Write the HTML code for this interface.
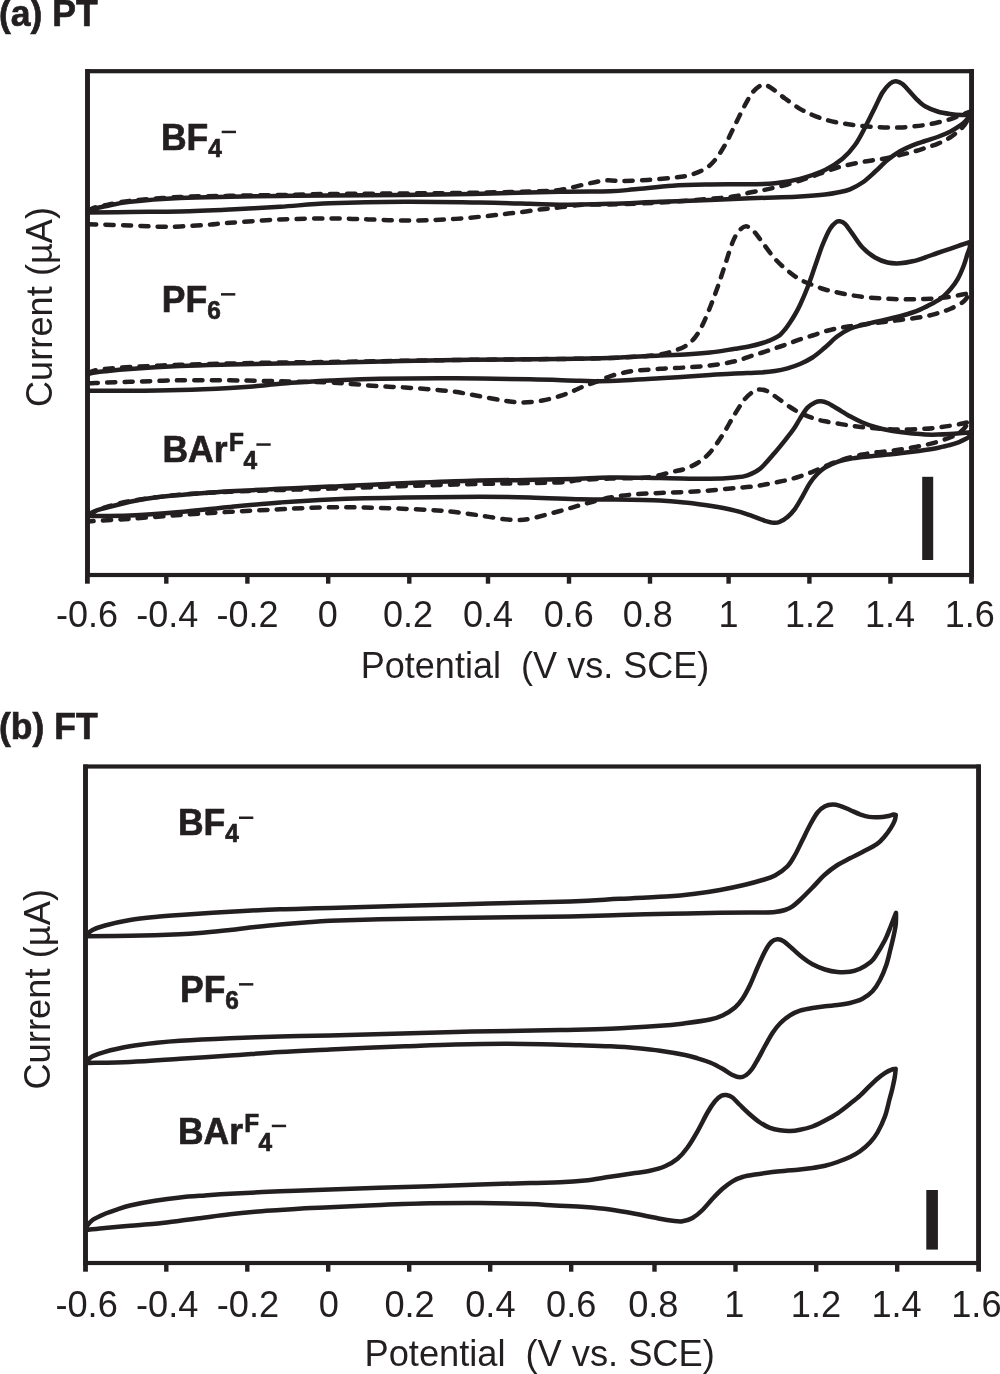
<!DOCTYPE html>
<html><head><meta charset="utf-8"><title>CV</title>
<style>html,body{margin:0;padding:0;background:#fff;}svg{display:block;will-change:transform;}</style>
</head><body>
<svg width="1000" height="1374" viewBox="0 0 1000 1374" font-family="'Liberation Sans', sans-serif" fill="#231f20">
<!-- panel a -->
<text transform="translate(-1 26.2) scale(0.955 1)" font-size="37.2" font-weight="bold" stroke="#231f20" stroke-width="0.7">(a) PT</text>
<rect x="87.5" y="71.2" width="884.1" height="503.8" fill="none" stroke="#231f20" stroke-width="4.2"/>
<path d="M87.5,69.10000000000001V577.1M971.6,69.10000000000001V577.1" stroke="#231f20" stroke-width="4.8" fill="none"/>
<line x1="87.40" y1="575" x2="87.40" y2="583.7" stroke="#231f20" stroke-width="4.8"/>
<text x="87.05" y="627" font-size="36" text-anchor="middle">-0.6</text>
<line x1="166.30" y1="575" x2="166.30" y2="583.7" stroke="#231f20" stroke-width="4.4"/>
<text x="167.20" y="627" font-size="36" text-anchor="middle">-0.4</text>
<line x1="247.40" y1="575" x2="247.40" y2="583.7" stroke="#231f20" stroke-width="4.4"/>
<text x="247.60" y="627" font-size="36" text-anchor="middle">-0.2</text>
<line x1="328.20" y1="575" x2="328.20" y2="583.7" stroke="#231f20" stroke-width="4.4"/>
<text x="327.70" y="627" font-size="36" text-anchor="middle">0</text>
<line x1="409.30" y1="575" x2="409.30" y2="583.7" stroke="#231f20" stroke-width="4.4"/>
<text x="408.00" y="627" font-size="36" text-anchor="middle">0.2</text>
<line x1="488.00" y1="575" x2="488.00" y2="583.7" stroke="#231f20" stroke-width="4.4"/>
<text x="488.00" y="627" font-size="36" text-anchor="middle">0.4</text>
<line x1="569.00" y1="575" x2="569.00" y2="583.7" stroke="#231f20" stroke-width="4.4"/>
<text x="568.80" y="627" font-size="36" text-anchor="middle">0.6</text>
<line x1="650.00" y1="575" x2="650.00" y2="583.7" stroke="#231f20" stroke-width="4.4"/>
<text x="647.70" y="627" font-size="36" text-anchor="middle">0.8</text>
<line x1="728.60" y1="575" x2="728.60" y2="583.7" stroke="#231f20" stroke-width="4.4"/>
<text x="728.60" y="627" font-size="36" text-anchor="middle">1</text>
<line x1="809.40" y1="575" x2="809.40" y2="583.7" stroke="#231f20" stroke-width="4.4"/>
<text x="810.00" y="627" font-size="36" text-anchor="middle">1.2</text>
<line x1="890.40" y1="575" x2="890.40" y2="583.7" stroke="#231f20" stroke-width="4.4"/>
<text x="889.90" y="627" font-size="36" text-anchor="middle">1.4</text>
<line x1="971.50" y1="575" x2="971.50" y2="583.7" stroke="#231f20" stroke-width="4.8"/>
<text x="969.80" y="627" font-size="36" text-anchor="middle">1.6</text>
<text x="360.7" y="677.8" font-size="36" textLength="348.6" lengthAdjust="spacing" style="white-space:pre">Potential  (V vs. SCE)</text>
<text transform="translate(52.4 407) rotate(-90)" font-size="36" textLength="200" lengthAdjust="spacing">Current (µA)</text>
<rect x="922.2" y="476.8" width="11" height="83.2" fill="#231f20"/>
<!-- panel b -->
<text transform="translate(-1 739.2) scale(0.955 1)" font-size="37.2" font-weight="bold" stroke="#231f20" stroke-width="0.7">(b) FT</text>
<rect x="85.5" y="766.5" width="893.1" height="496.5" fill="none" stroke="#231f20" stroke-width="4.2"/>
<path d="M85.5,764.4V1265.1M978.6,764.4V1265.1" stroke="#231f20" stroke-width="4.8" fill="none"/>
<line x1="85.50" y1="1263" x2="85.50" y2="1271.7" stroke="#231f20" stroke-width="4.8"/>
<text x="86.60" y="1316.6" font-size="36.2" text-anchor="middle">-0.6</text>
<line x1="166.30" y1="1263" x2="166.30" y2="1271.7" stroke="#231f20" stroke-width="4.4"/>
<text x="167.20" y="1316.6" font-size="36.2" text-anchor="middle">-0.4</text>
<line x1="247.30" y1="1263" x2="247.30" y2="1271.7" stroke="#231f20" stroke-width="4.4"/>
<text x="248.00" y="1316.6" font-size="36.2" text-anchor="middle">-0.2</text>
<line x1="328.20" y1="1263" x2="328.20" y2="1271.7" stroke="#231f20" stroke-width="4.4"/>
<text x="328.80" y="1316.6" font-size="36.2" text-anchor="middle">0</text>
<line x1="409.20" y1="1263" x2="409.20" y2="1271.7" stroke="#231f20" stroke-width="4.4"/>
<text x="409.60" y="1316.6" font-size="36.2" text-anchor="middle">0.2</text>
<line x1="490.20" y1="1263" x2="490.20" y2="1271.7" stroke="#231f20" stroke-width="4.4"/>
<text x="490.40" y="1316.6" font-size="36.2" text-anchor="middle">0.4</text>
<line x1="571.20" y1="1263" x2="571.20" y2="1271.7" stroke="#231f20" stroke-width="4.4"/>
<text x="571.20" y="1316.6" font-size="36.2" text-anchor="middle">0.6</text>
<line x1="654.50" y1="1263" x2="654.50" y2="1271.7" stroke="#231f20" stroke-width="4.4"/>
<text x="653.30" y="1316.6" font-size="36.2" text-anchor="middle">0.8</text>
<line x1="735.50" y1="1263" x2="735.50" y2="1271.7" stroke="#231f20" stroke-width="4.4"/>
<text x="734.40" y="1316.6" font-size="36.2" text-anchor="middle">1</text>
<line x1="816.20" y1="1263" x2="816.20" y2="1271.7" stroke="#231f20" stroke-width="4.4"/>
<text x="816.00" y="1316.6" font-size="36.2" text-anchor="middle">1.2</text>
<line x1="897.20" y1="1263" x2="897.20" y2="1271.7" stroke="#231f20" stroke-width="4.4"/>
<text x="896.60" y="1316.6" font-size="36.2" text-anchor="middle">1.4</text>
<line x1="978.60" y1="1263" x2="978.60" y2="1271.7" stroke="#231f20" stroke-width="4.8"/>
<text x="976.40" y="1316.6" font-size="36.2" text-anchor="middle">1.6</text>
<text x="364.5" y="1366" font-size="36.3" textLength="350.3" lengthAdjust="spacing" style="white-space:pre">Potential  (V vs. SCE)</text>
<text transform="translate(50 1089.6) rotate(-90)" font-size="36.3" textLength="200.6" lengthAdjust="spacing">Current (µA)</text>
<rect x="926.3" y="1190" width="11.6" height="59.6" fill="#231f20"/>
<!-- labels -->
<text transform="translate(161 149.6) scale(0.954 1)" font-size="37.2" font-weight="bold" stroke="#231f20" stroke-width="0.7">BF</text>
<text transform="translate(208.2 156.6) scale(0.97 1)" font-size="25.2" font-weight="bold" stroke="#231f20" stroke-width="0.7">4</text>
<rect x="221.7" y="130.7" width="14.3" height="2.5"/>
<text transform="translate(161.8 312) scale(0.954 1)" font-size="37.2" font-weight="bold" stroke="#231f20" stroke-width="0.7">PF</text>
<text transform="translate(207.2 319.0) scale(0.97 1)" font-size="25.2" font-weight="bold" stroke="#231f20" stroke-width="0.7">6</text>
<rect x="221" y="293.1" width="14.3" height="2.5"/>
<text transform="translate(162.4 462.2) scale(0.954 1)" font-size="37.2" font-weight="bold" stroke="#231f20" stroke-width="0.7">BAr</text>
<text transform="translate(229 450.59999999999997) scale(0.97 1)" font-size="25.2" font-weight="bold" stroke="#231f20" stroke-width="0.7">F</text>
<text transform="translate(243.4 469.2) scale(0.97 1)" font-size="25.2" font-weight="bold" stroke="#231f20" stroke-width="0.7">4</text>
<rect x="256.4" y="443.3" width="14.3" height="2.5"/>
<text transform="translate(178 835.4) scale(0.954 1)" font-size="37.2" font-weight="bold" stroke="#231f20" stroke-width="0.7">BF</text>
<text transform="translate(225.2 842.4) scale(0.97 1)" font-size="25.2" font-weight="bold" stroke="#231f20" stroke-width="0.7">4</text>
<rect x="239" y="816.5" width="14.3" height="2.5"/>
<text transform="translate(180 1002) scale(0.954 1)" font-size="37.2" font-weight="bold" stroke="#231f20" stroke-width="0.7">PF</text>
<text transform="translate(225.2 1009.0) scale(0.97 1)" font-size="25.2" font-weight="bold" stroke="#231f20" stroke-width="0.7">6</text>
<rect x="239" y="983.1" width="14.3" height="2.5"/>
<text transform="translate(178 1143.6) scale(0.954 1)" font-size="37.2" font-weight="bold" stroke="#231f20" stroke-width="0.7">BAr</text>
<text transform="translate(244.2 1132.0) scale(0.97 1)" font-size="25.2" font-weight="bold" stroke="#231f20" stroke-width="0.7">F</text>
<text transform="translate(258.6 1150.6) scale(0.97 1)" font-size="25.2" font-weight="bold" stroke="#231f20" stroke-width="0.7">4</text>
<rect x="271.8" y="1124.6999999999998" width="14.3" height="2.5"/>
<!-- curves -->
<path d="M88.0,212.0C89.2,211.4 92.2,209.4 95.0,208.5C97.8,207.6 99.2,207.4 105.0,206.3C110.8,205.2 117.5,203.2 130.0,201.8C142.5,200.4 163.3,198.8 180.0,198.0C196.7,197.2 213.3,197.1 230.0,196.8C246.7,196.5 263.3,196.2 280.0,196.0C296.7,195.8 300.8,195.8 330.0,195.5C359.2,195.2 416.7,194.9 455.0,194.3C493.3,193.7 534.2,192.3 560.0,191.8C585.8,191.3 597.5,191.7 610.0,191.3C622.5,190.9 624.6,190.2 635.0,189.3C645.4,188.4 660.0,186.6 672.5,185.8C685.0,185.0 697.1,184.8 710.0,184.5C722.9,184.2 739.2,184.5 750.0,184.3C760.8,184.1 766.7,184.2 775.0,183.3C783.3,182.4 791.7,181.0 800.0,178.8C808.3,176.6 817.9,173.3 825.0,170.0C832.1,166.7 837.5,163.0 842.5,158.8C847.5,154.6 851.2,150.2 855.0,145.0C858.8,139.8 861.7,133.8 865.0,127.5C868.3,121.2 872.1,113.3 875.0,107.5C877.9,101.7 880.0,96.5 882.5,92.5C885.0,88.5 887.8,85.5 890.0,83.6C892.2,81.7 893.9,81.1 896.0,81.2C898.1,81.3 899.8,81.8 902.5,84.0C905.2,86.2 909.9,92.0 912.5,94.7C915.1,97.5 915.9,98.6 918.0,100.5C920.1,102.4 921.8,104.4 925.0,106.2C928.2,108.0 933.3,110.2 937.5,111.5C941.7,112.8 945.8,113.4 950.0,114.0C954.2,114.6 959.0,114.9 962.5,115.0C966.0,115.1 969.6,114.6 971.0,114.5C970.0,115.7 966.8,119.6 965.0,121.5C963.2,123.4 962.5,124.0 960.0,125.7C957.5,127.4 953.8,129.9 950.0,131.8C946.2,133.7 941.7,135.5 937.5,137.0C933.3,138.5 929.2,139.6 925.0,141.0C920.8,142.4 916.7,143.6 912.5,145.3C908.3,147.0 904.2,148.9 900.0,151.3C895.8,153.8 891.7,156.6 887.5,160.0C883.3,163.4 879.2,168.1 875.0,171.8C870.8,175.6 866.7,179.6 862.5,182.5C858.3,185.4 854.2,187.6 850.0,189.3C845.8,191.0 841.7,191.6 837.5,192.5C833.3,193.4 831.2,193.8 825.0,194.5C818.8,195.2 808.3,196.0 800.0,196.5C791.7,197.0 783.3,197.2 775.0,197.5C766.7,197.8 760.8,197.9 750.0,198.3C739.2,198.7 725.0,199.4 710.0,200.0C695.0,200.6 676.7,201.2 660.0,201.8C643.3,202.4 626.7,203.3 610.0,203.8C593.3,204.3 573.3,204.8 560.0,204.8C546.7,204.8 543.3,204.2 530.0,203.8C516.7,203.4 500.8,202.8 480.0,202.5C459.2,202.2 430.0,201.7 405.0,201.8C380.0,201.9 350.8,202.5 330.0,203.3C309.2,204.1 296.7,205.8 280.0,206.8C263.3,207.8 246.7,208.7 230.0,209.5C213.3,210.3 196.7,211.1 180.0,211.5C163.3,211.9 145.3,211.8 130.0,212.0C114.7,212.2 95.0,212.4 88.0,212.5" fill="none" stroke="#231f20" stroke-width="4.5" stroke-linejoin="round"/>
<path d="M88.0,211.0C89.2,210.4 92.2,208.4 95.0,207.5C97.8,206.6 99.2,206.4 105.0,205.3C110.8,204.2 117.5,202.2 130.0,200.8C142.5,199.4 163.3,197.8 180.0,197.0C196.7,196.2 213.3,196.1 230.0,195.8C246.7,195.5 263.3,195.3 280.0,195.0C296.7,194.7 300.8,194.3 330.0,194.0C359.2,193.7 421.7,193.4 455.0,193.0C488.3,192.6 512.5,192.0 530.0,191.5C547.5,191.0 550.8,191.2 560.0,190.0C569.2,188.8 577.5,185.9 585.0,184.3C592.5,182.7 598.8,181.1 605.0,180.5C611.2,179.9 615.4,181.1 622.5,181.0C629.6,180.9 639.2,180.5 647.5,180.0C655.8,179.5 665.4,178.6 672.5,177.8C679.6,177.0 684.6,176.5 690.0,175.0C695.4,173.5 700.8,171.3 705.0,168.8C709.2,166.3 711.7,164.0 715.0,160.0C718.3,156.0 721.7,150.8 725.0,145.0C728.3,139.2 731.7,131.7 735.0,125.0C738.3,118.3 742.1,110.4 745.0,105.0C747.9,99.6 750.0,95.7 752.5,92.5C755.0,89.3 757.9,87.0 760.0,85.8C762.1,84.5 762.9,84.5 765.0,85.0C767.1,85.5 769.2,86.5 772.5,88.8C775.8,91.0 780.4,95.2 785.0,98.5C789.6,101.8 795.4,106.0 800.0,108.8C804.6,111.5 808.3,113.2 812.5,115.0C816.7,116.8 820.8,118.2 825.0,119.5C829.2,120.8 833.3,121.7 837.5,122.5C841.7,123.3 845.8,123.9 850.0,124.5C854.2,125.1 858.3,125.6 862.5,126.0C866.7,126.4 870.8,126.8 875.0,127.0C879.2,127.2 883.3,127.4 887.5,127.5C891.7,127.6 895.8,127.7 900.0,127.5C904.2,127.3 908.3,126.9 912.5,126.5C916.7,126.1 920.8,125.7 925.0,125.0C929.2,124.3 933.3,123.5 937.5,122.5C941.7,121.5 945.8,120.6 950.0,119.3C954.2,118.0 959.0,115.8 962.5,114.5C966.0,113.2 969.6,111.8 971.0,111.3C970.3,112.9 968.4,118.3 967.0,121.0C965.6,123.7 965.3,124.8 962.5,127.5C959.7,130.2 954.2,134.8 950.0,137.5C945.8,140.2 941.7,142.1 937.5,143.8C933.3,145.6 929.2,146.6 925.0,148.0C920.8,149.4 916.7,150.8 912.5,152.0C908.3,153.2 904.2,154.0 900.0,155.0C895.8,156.0 891.7,157.2 887.5,158.0C883.3,158.8 879.2,159.3 875.0,160.0C870.8,160.7 866.7,161.2 862.5,162.0C858.3,162.8 854.2,163.6 850.0,164.5C845.8,165.4 841.7,166.3 837.5,167.5C833.3,168.7 829.2,170.3 825.0,171.8C820.8,173.3 816.7,174.9 812.5,176.3C808.3,177.8 804.2,179.1 800.0,180.5C795.8,181.9 791.7,183.3 787.5,184.5C783.3,185.7 779.2,186.5 775.0,187.5C770.8,188.5 766.7,189.5 762.5,190.3C758.3,191.1 754.6,191.5 750.0,192.5C745.4,193.5 741.7,195.2 735.0,196.3C728.3,197.4 722.5,197.8 710.0,198.8C697.5,199.8 676.7,201.6 660.0,202.5C643.3,203.4 622.5,204.2 610.0,204.5C597.5,204.8 591.2,204.4 585.0,204.6C578.8,204.8 577.7,205.2 572.5,205.8C567.3,206.4 559.8,207.3 553.8,208.0C547.8,208.7 542.3,209.2 536.3,210.0C530.2,210.8 523.5,211.8 517.5,212.5C511.4,213.2 505.8,213.8 500.0,214.5C494.2,215.2 488.5,215.9 482.5,216.5C476.5,217.1 470.1,217.8 463.8,218.3C457.6,218.8 451.1,219.2 445.0,219.5C438.9,219.8 433.3,220.1 427.5,220.3C421.7,220.5 415.8,220.5 410.0,220.5C404.2,220.5 398.5,220.5 392.5,220.3C386.5,220.2 380.1,219.8 373.8,219.6C367.6,219.4 362.3,219.2 355.0,219.0C347.7,218.8 342.5,218.3 330.0,218.4C317.5,218.5 296.7,218.8 280.0,219.5C263.3,220.2 242.5,221.9 230.0,222.8C217.5,223.7 215.4,224.3 205.0,225.0C194.6,225.7 180.0,226.7 167.5,226.8C155.0,226.9 143.2,225.9 130.0,225.5C116.8,225.1 95.0,224.5 88.0,224.3" fill="none" stroke="#231f20" stroke-width="4.5" stroke-linejoin="round" stroke-dasharray="8.2 9.2" stroke-linecap="round"/>
<path d="M88.0,374.0C89.2,373.8 92.2,372.9 95.0,372.5C97.8,372.1 99.2,371.9 105.0,371.3C110.8,370.7 117.5,369.9 130.0,369.0C142.5,368.1 163.3,366.8 180.0,366.0C196.7,365.2 213.3,364.9 230.0,364.5C246.7,364.1 263.3,363.8 280.0,363.5C296.7,363.2 300.8,363.4 330.0,362.8C359.2,362.2 416.7,360.6 455.0,360.0C493.3,359.4 534.2,359.3 560.0,359.0C585.8,358.7 593.3,358.6 610.0,358.0C626.7,357.4 647.5,356.1 660.0,355.5C672.5,354.9 676.7,355.0 685.0,354.5C693.3,354.0 701.7,353.4 710.0,352.5C718.3,351.6 728.3,349.8 735.0,348.8C741.7,347.8 745.4,347.3 750.0,346.3C754.6,345.3 759.2,344.0 762.5,343.0C765.8,342.0 767.9,341.1 770.0,340.3C772.1,339.5 773.3,338.9 775.0,338.0C776.7,337.1 778.3,336.4 780.0,335.0C781.7,333.6 783.3,331.6 785.0,329.5C786.7,327.4 788.3,325.0 790.0,322.5C791.7,320.0 793.3,317.4 795.0,314.5C796.7,311.6 797.9,309.5 800.0,305.0C802.1,300.5 805.0,293.9 807.5,287.5C810.0,281.1 812.5,273.4 815.0,266.3C817.5,259.2 820.0,251.2 822.5,245.0C825.0,238.8 827.7,232.6 830.0,228.8C832.3,225.0 834.6,223.2 836.3,222.0C838.0,220.8 838.5,221.0 840.0,221.3C841.5,221.6 842.9,221.7 845.0,223.8C847.1,225.9 849.6,229.9 852.5,233.8C855.4,237.8 858.8,243.6 862.5,247.5C866.2,251.4 870.8,255.0 875.0,257.5C879.2,260.0 883.3,261.5 887.5,262.5C891.7,263.5 895.8,263.5 900.0,263.3C904.2,263.1 908.3,262.3 912.5,261.3C916.7,260.3 920.8,258.9 925.0,257.5C929.2,256.1 933.3,254.4 937.5,253.0C941.7,251.6 945.8,250.2 950.0,248.8C954.2,247.4 959.0,245.7 962.5,244.5C966.0,243.3 969.6,242.1 971.0,241.6C970.8,242.7 970.2,245.8 969.6,248.0C969.0,250.2 968.3,251.5 967.3,254.5C966.3,257.5 965.3,261.7 963.7,265.8C962.1,269.9 960.0,275.0 957.8,278.9C955.6,282.8 953.3,285.9 950.6,289.0C947.9,292.1 945.1,295.2 941.8,297.8C938.5,300.4 934.5,302.3 930.9,304.3C927.3,306.3 923.1,308.2 920.0,309.6C916.9,311.0 915.8,311.4 912.5,312.5C909.2,313.6 904.2,315.2 900.0,316.3C895.8,317.4 891.7,318.4 887.5,319.3C883.3,320.2 879.2,321.1 875.0,322.0C870.8,322.9 866.7,323.9 862.5,325.0C858.3,326.1 854.2,326.9 850.0,328.8C845.8,330.7 841.7,333.2 837.5,336.3C833.3,339.4 829.2,344.0 825.0,347.5C820.8,351.0 816.7,354.8 812.5,357.5C808.3,360.2 804.2,362.2 800.0,364.0C795.8,365.8 791.7,367.1 787.5,368.3C783.3,369.5 779.6,370.3 775.0,371.0C770.4,371.7 766.7,372.1 760.0,372.5C753.3,372.9 743.3,373.1 735.0,373.5C726.7,373.9 722.5,374.2 710.0,375.0C697.5,375.8 676.7,377.3 660.0,378.3C643.3,379.3 623.3,380.6 610.0,381.0C596.7,381.4 593.3,381.1 580.0,380.8C566.7,380.5 550.8,379.7 530.0,379.3C509.2,378.9 480.0,378.4 455.0,378.3C430.0,378.2 400.8,378.4 380.0,378.8C359.2,379.2 342.5,380.0 330.0,380.5C317.5,381.0 313.3,381.4 305.0,382.0C296.7,382.6 288.3,383.1 280.0,383.8C271.7,384.5 263.3,385.6 255.0,386.3C246.7,387.0 242.5,387.4 230.0,388.0C217.5,388.6 196.7,389.5 180.0,390.0C163.3,390.5 145.3,390.7 130.0,390.8C114.7,390.9 95.0,390.8 88.0,390.8" fill="none" stroke="#231f20" stroke-width="4.5" stroke-linejoin="round"/>
<path d="M88.0,373.0C89.2,372.6 92.2,371.2 95.0,370.5C97.8,369.8 99.2,369.6 105.0,369.0C110.8,368.4 117.5,367.7 130.0,367.0C142.5,366.3 163.3,365.4 180.0,364.8C196.7,364.2 213.3,363.9 230.0,363.5C246.7,363.1 263.3,362.8 280.0,362.5C296.7,362.2 300.8,362.4 330.0,362.0C359.2,361.6 416.7,360.5 455.0,360.0C493.3,359.5 534.2,359.3 560.0,359.0C585.8,358.7 595.5,358.5 610.0,358.0C624.5,357.5 638.7,356.6 647.0,356.0C655.3,355.4 655.8,355.3 660.0,354.5C664.2,353.7 668.3,352.7 672.5,351.3C676.7,349.9 681.2,348.6 685.0,346.3C688.8,344.0 692.1,341.1 695.0,337.5C697.9,333.9 700.0,330.0 702.5,325.0C705.0,320.0 707.5,313.8 710.0,307.5C712.5,301.2 715.0,294.6 717.5,287.5C720.0,280.4 722.5,272.5 725.0,265.0C727.5,257.5 730.2,248.1 732.5,242.5C734.8,236.9 736.5,234.0 738.8,231.3C741.0,228.6 743.5,226.3 746.0,226.3C748.5,226.3 751.0,228.6 753.8,231.3C756.5,234.0 759.0,237.9 762.5,242.5C766.0,247.1 770.8,254.1 775.0,258.8C779.2,263.5 783.3,267.1 787.5,270.5C791.7,273.9 795.8,277.1 800.0,279.5C804.2,281.9 808.3,283.3 812.5,285.0C816.7,286.7 820.8,288.2 825.0,289.5C829.2,290.8 833.3,291.6 837.5,292.5C841.7,293.4 845.8,294.3 850.0,295.0C854.2,295.7 858.3,296.3 862.5,296.8C866.7,297.3 870.8,297.7 875.0,298.0C879.2,298.3 883.3,298.6 887.5,298.8C891.7,299.0 895.8,299.2 900.0,299.3C904.2,299.4 908.3,299.4 912.5,299.3C916.7,299.2 920.8,299.2 925.0,299.0C929.2,298.8 933.3,298.6 937.5,298.2C941.7,297.8 945.8,297.4 950.0,296.8C954.2,296.2 959.2,295.1 962.5,294.5C965.8,293.9 968.8,293.2 970.0,293.0C969.2,294.1 967.0,297.7 965.5,299.5C964.0,301.3 963.3,302.1 960.8,303.6C958.3,305.1 954.1,307.2 950.6,308.7C947.1,310.2 944.3,311.2 940.0,312.5C935.7,313.8 931.7,315.2 925.0,316.5C918.3,317.8 908.3,318.9 900.0,320.0C891.7,321.1 883.3,321.9 875.0,323.0C866.7,324.1 856.2,325.4 850.0,326.3C843.8,327.2 841.7,327.5 837.5,328.3C833.3,329.1 829.2,330.1 825.0,331.3C820.8,332.5 816.7,334.2 812.5,335.5C808.3,336.8 804.2,337.9 800.0,339.3C795.8,340.7 791.7,342.5 787.5,344.0C783.3,345.5 779.2,346.9 775.0,348.3C770.8,349.7 766.7,351.2 762.5,352.5C758.3,353.8 754.6,354.8 750.0,356.3C745.4,357.8 741.7,359.8 735.0,361.3C728.3,362.8 718.3,364.5 710.0,365.5C701.7,366.5 693.3,366.9 685.0,367.5C676.7,368.1 668.3,368.2 660.0,368.8C651.7,369.4 641.2,370.1 635.0,370.8C628.8,371.5 626.7,372.1 622.5,373.0C618.3,373.9 614.2,374.9 610.0,376.3C605.8,377.7 601.7,379.7 597.5,381.3C593.3,382.9 589.2,384.1 585.0,385.8C580.8,387.5 576.7,389.6 572.5,391.3C568.3,393.0 565.0,394.5 560.0,396.0C555.0,397.5 548.8,399.4 542.5,400.5C536.2,401.6 528.8,402.4 522.5,402.5C516.2,402.6 512.1,401.8 505.0,400.8C497.9,399.8 488.3,397.8 480.0,396.3C471.7,394.8 463.3,393.0 455.0,391.8C446.7,390.6 438.3,390.0 430.0,389.3C421.7,388.6 413.3,388.0 405.0,387.5C396.7,387.0 388.3,386.8 380.0,386.3C371.7,385.8 363.3,384.9 355.0,384.3C346.7,383.7 342.5,383.0 330.0,382.5C317.5,382.0 292.5,381.6 280.0,381.3C267.5,381.0 263.3,381.0 255.0,380.8C246.7,380.6 242.5,380.4 230.0,380.3C217.5,380.2 196.7,380.1 180.0,380.3C163.3,380.6 144.2,381.4 130.0,381.8C115.8,382.2 102.0,382.7 95.0,383.0C88.0,383.3 89.2,383.4 88.0,383.5" fill="none" stroke="#231f20" stroke-width="4.5" stroke-linejoin="round" stroke-dasharray="8.2 9.2" stroke-linecap="round"/>
<path d="M88.0,514.5C89.2,513.9 92.2,512.1 95.0,511.0C97.8,509.9 99.2,509.5 105.0,508.0C110.8,506.5 121.7,503.6 130.0,501.8C138.3,500.1 146.7,498.6 155.0,497.5C163.3,496.4 167.5,496.0 180.0,495.0C192.5,494.0 213.3,492.3 230.0,491.3C246.7,490.3 263.3,489.6 280.0,488.8C296.7,488.0 300.8,487.9 330.0,486.6C359.2,485.4 416.7,482.5 455.0,481.3C493.3,480.1 534.2,479.9 560.0,479.3C585.8,478.7 593.3,477.7 610.0,477.5C626.7,477.3 643.3,477.8 660.0,478.0C676.7,478.2 697.5,478.9 710.0,478.8C722.5,478.7 728.8,478.1 735.0,477.5C741.2,476.9 743.3,476.8 747.5,475.3C751.7,473.9 755.4,472.6 760.0,468.8C764.6,465.0 770.4,457.8 775.0,452.5C779.6,447.2 784.3,441.2 787.5,437.2C790.7,433.2 791.9,431.7 794.0,428.6C796.1,425.5 797.8,422.1 800.0,418.6C802.2,415.1 805.0,410.3 807.5,407.6C810.0,404.9 812.8,403.6 815.0,402.5C817.2,401.4 818.9,401.2 821.0,401.3C823.1,401.4 824.8,401.8 827.5,403.0C830.2,404.2 833.8,406.6 837.5,408.8C841.2,411.0 845.8,414.0 850.0,416.3C854.2,418.6 858.3,420.7 862.5,422.5C866.7,424.3 870.8,425.8 875.0,427.0C879.2,428.2 883.3,429.2 887.5,430.0C891.7,430.8 895.8,431.4 900.0,432.0C904.2,432.6 908.3,433.1 912.5,433.5C916.7,433.9 920.8,434.3 925.0,434.5C929.2,434.7 933.3,434.7 937.5,434.6C941.7,434.5 945.8,434.3 950.0,434.0C954.2,433.7 959.0,433.3 962.5,433.0C966.0,432.7 969.6,432.4 971.0,432.3C970.7,433.0 970.3,435.3 969.3,436.5C968.3,437.7 966.8,438.3 965.0,439.3C963.2,440.3 961.0,441.4 958.5,442.3C956.0,443.2 953.5,444.1 950.0,445.0C946.5,445.9 941.7,447.2 937.5,448.0C933.3,448.8 929.2,449.4 925.0,450.0C920.8,450.6 916.7,451.2 912.5,451.8C908.3,452.4 904.2,452.9 900.0,453.3C895.8,453.8 891.7,454.1 887.5,454.5C883.3,454.9 879.2,455.4 875.0,455.8C870.8,456.2 866.7,456.5 862.5,457.0C858.3,457.5 854.2,458.0 850.0,458.8C845.8,459.6 841.7,460.4 837.5,461.8C833.3,463.2 828.3,465.5 825.0,467.5C821.7,469.5 820.0,471.2 817.5,473.8C815.0,476.4 812.5,479.2 810.0,483.0C807.5,486.8 805.0,492.0 802.5,496.3C800.0,500.6 797.5,505.4 795.0,508.8C792.5,512.2 790.0,514.9 787.5,517.0C785.0,519.1 782.3,520.8 780.0,521.7C777.7,522.7 776.3,522.9 773.8,522.7C771.3,522.6 769.0,522.0 765.0,520.8C761.0,519.5 755.0,516.9 750.0,515.2C745.0,513.5 741.7,512.2 735.0,510.6C728.3,509.0 718.3,507.2 710.0,505.8C701.7,504.4 693.3,503.4 685.0,502.5C676.7,501.6 672.5,501.0 660.0,500.5C647.5,500.0 623.3,499.7 610.0,499.5C596.7,499.3 593.3,499.6 580.0,499.3C566.7,499.0 546.7,497.9 530.0,497.5C513.3,497.1 500.8,496.8 480.0,496.8C459.2,496.8 430.0,497.1 405.0,497.5C380.0,497.9 350.8,498.6 330.0,499.4C309.2,500.2 296.7,501.2 280.0,502.5C263.3,503.8 246.7,505.4 230.0,507.0C213.3,508.6 196.7,510.6 180.0,512.0C163.3,513.4 145.3,514.8 130.0,515.5C114.7,516.2 95.0,515.9 88.0,516.0" fill="none" stroke="#231f20" stroke-width="4.5" stroke-linejoin="round"/>
<path d="M88.0,516.0C89.2,515.2 92.2,512.9 95.0,511.5C97.8,510.1 99.2,509.2 105.0,507.5C110.8,505.8 117.5,503.1 130.0,501.0C142.5,498.9 163.3,496.3 180.0,494.8C196.7,493.3 213.3,492.6 230.0,491.8C246.7,491.0 263.3,490.5 280.0,490.0C296.7,489.5 300.8,489.5 330.0,488.6C359.2,487.7 417.5,485.5 455.0,484.5C492.5,483.5 534.2,483.2 555.0,482.5C575.8,481.8 570.8,480.7 580.0,480.0C589.2,479.3 598.8,478.9 610.0,478.5C621.2,478.1 636.6,478.6 647.0,477.5C657.4,476.4 666.2,473.2 672.5,471.8C678.8,470.4 680.8,470.3 685.0,468.8C689.2,467.3 693.3,465.7 697.5,463.0C701.7,460.3 705.8,457.2 710.0,452.5C714.2,447.8 718.3,441.4 722.5,435.0C726.7,428.6 731.2,419.8 735.0,413.8C738.8,407.8 741.9,402.6 745.0,398.8C748.1,395.1 751.3,392.9 753.8,391.3C756.3,389.8 757.7,389.5 760.0,389.5C762.3,389.5 764.6,389.9 767.5,391.3C770.4,392.7 773.8,395.4 777.5,398.0C781.2,400.6 786.2,404.5 790.0,407.0C793.8,409.5 796.2,411.0 800.0,412.8C803.8,414.6 808.3,416.6 812.5,418.0C816.7,419.4 818.8,420.1 825.0,421.3C831.2,422.6 841.7,424.3 850.0,425.5C858.3,426.7 866.7,427.6 875.0,428.3C883.3,429.0 891.7,429.4 900.0,429.5C908.3,429.6 918.8,429.1 925.0,428.8C931.2,428.5 933.3,428.0 937.5,427.5C941.7,427.0 945.8,426.5 950.0,425.8C954.2,425.1 959.2,424.2 962.5,423.5C965.8,422.8 968.8,422.1 970.0,421.8C969.4,422.4 967.7,424.2 966.5,425.5C965.3,426.8 964.6,428.2 963.0,429.7C961.4,431.2 959.2,433.0 957.0,434.3C954.8,435.6 953.2,436.2 950.0,437.5C946.8,438.8 941.7,440.6 937.5,441.8C933.3,443.1 929.2,444.1 925.0,445.0C920.8,445.9 916.7,446.8 912.5,447.5C908.3,448.2 904.2,448.9 900.0,449.5C895.8,450.1 891.7,450.8 887.5,451.3C883.3,451.8 879.2,452.0 875.0,452.5C870.8,453.0 866.7,453.7 862.5,454.5C858.3,455.3 854.2,456.4 850.0,457.5C845.8,458.6 841.7,459.8 837.5,461.3C833.3,462.8 829.2,464.6 825.0,466.3C820.8,468.1 816.7,470.1 812.5,471.8C808.3,473.5 804.2,474.9 800.0,476.3C795.8,477.7 791.7,479.0 787.5,480.0C783.3,481.0 779.2,481.7 775.0,482.5C770.8,483.3 766.7,484.3 762.5,485.0C758.3,485.7 754.6,486.3 750.0,486.8C745.4,487.3 741.7,487.4 735.0,488.0C728.3,488.6 718.3,489.8 710.0,490.5C701.7,491.2 693.3,491.6 685.0,492.0C676.7,492.4 668.3,492.6 660.0,493.0C651.7,493.4 643.3,493.6 635.0,494.3C626.7,495.1 618.3,495.9 610.0,497.5C601.7,499.1 593.3,501.6 585.0,503.8C576.7,506.1 569.2,508.5 560.0,511.0C550.8,513.5 537.1,517.3 530.0,518.8C522.9,520.3 521.7,519.9 517.5,520.0C513.3,520.1 511.2,520.0 505.0,519.3C498.8,518.5 488.3,516.7 480.0,515.5C471.7,514.3 463.3,512.9 455.0,512.0C446.7,511.1 442.5,510.7 430.0,510.0C417.5,509.3 396.7,508.5 380.0,508.0C363.3,507.5 346.7,507.0 330.0,507.2C313.3,507.4 296.7,508.5 280.0,509.3C263.3,510.1 246.7,510.9 230.0,511.8C213.3,512.8 196.7,513.8 180.0,515.0C163.3,516.2 144.2,517.8 130.0,518.8C115.8,519.8 102.0,520.5 95.0,521.0C88.0,521.5 89.2,521.4 88.0,521.5" fill="none" stroke="#231f20" stroke-width="4.5" stroke-linejoin="round" stroke-dasharray="8.2 9.2" stroke-linecap="round"/>
<path d="M86.0,935.0C87.1,934.2 89.3,931.6 92.5,930.0C95.7,928.4 98.8,927.2 105.0,925.5C111.2,923.8 121.7,921.4 130.0,920.0C138.3,918.6 146.7,917.8 155.0,917.0C163.3,916.2 167.5,915.9 180.0,915.0C192.5,914.1 213.3,912.8 230.0,911.8C246.7,910.8 263.3,909.9 280.0,909.3C296.7,908.7 300.8,908.8 330.0,908.0C359.2,907.2 415.0,905.5 455.0,904.4C495.0,903.3 542.5,902.3 570.0,901.4C597.5,900.5 603.3,899.6 620.0,898.8C636.7,897.9 657.5,897.1 670.0,896.3C682.5,895.5 686.7,894.8 695.0,893.8C703.3,892.8 711.7,891.5 720.0,890.0C728.3,888.5 737.9,886.5 745.0,884.8C752.1,883.1 757.5,881.5 762.5,880.0C767.5,878.5 770.8,877.8 775.0,875.5C779.2,873.2 784.2,869.7 787.5,866.3C790.8,862.9 792.5,859.4 795.0,855.0C797.5,850.6 800.0,845.0 802.5,840.0C805.0,835.0 807.5,829.6 810.0,825.0C812.5,820.4 815.0,815.6 817.5,812.5C820.0,809.4 822.5,807.6 825.0,806.3C827.5,805.0 830.0,804.6 832.5,804.5C835.0,804.4 837.1,804.9 840.0,805.8C842.9,806.7 846.7,808.6 850.0,810.0C853.3,811.4 856.8,813.1 860.0,814.3C863.2,815.4 866.0,816.4 869.0,816.9C872.0,817.4 875.0,817.4 878.0,817.3C881.0,817.2 884.4,816.8 887.0,816.3C889.6,815.8 892.1,814.8 893.6,814.6C895.1,814.4 895.4,814.9 895.8,815.0C895.6,815.9 895.6,818.1 894.8,820.2C894.0,822.3 892.8,824.8 891.2,827.4C889.6,830.0 887.6,833.0 885.2,835.8C882.8,838.6 880.6,841.5 876.8,844.2C873.0,846.9 867.0,849.6 862.5,852.0C858.0,854.4 854.2,856.1 850.0,858.3C845.8,860.5 841.7,862.3 837.5,865.0C833.3,867.7 829.2,870.8 825.0,874.5C820.8,878.2 816.7,883.2 812.5,887.5C808.3,891.8 803.3,896.9 800.0,900.0C796.7,903.1 795.0,904.6 792.5,906.3C790.0,908.0 787.9,909.0 785.0,910.0C782.1,911.0 778.8,911.6 775.0,912.0C771.2,912.4 766.7,912.4 762.5,912.5C758.3,912.6 757.1,912.5 750.0,912.5C742.9,912.5 733.3,912.5 720.0,912.7C706.7,912.9 686.7,913.4 670.0,913.8C653.3,914.2 636.7,914.5 620.0,915.0C603.3,915.5 597.5,916.0 570.0,916.5C542.5,917.0 486.7,917.5 455.0,918.0C423.3,918.5 400.8,918.8 380.0,919.3C359.2,919.8 342.5,920.3 330.0,920.8C317.5,921.3 313.3,921.9 305.0,922.5C296.7,923.1 288.3,923.8 280.0,924.5C271.7,925.2 263.3,926.1 255.0,927.0C246.7,927.9 238.3,929.1 230.0,930.0C221.7,930.9 213.3,931.8 205.0,932.5C196.7,933.2 192.5,933.8 180.0,934.3C167.5,934.8 145.7,935.5 130.0,935.8C114.3,936.1 93.3,936.2 86.0,936.3" fill="none" stroke="#231f20" stroke-width="4.5" stroke-linejoin="round"/>
<path d="M86.0,1061.3C87.1,1060.5 89.3,1057.9 92.5,1056.3C95.7,1054.7 98.8,1053.5 105.0,1051.8C111.2,1050.1 121.7,1047.8 130.0,1046.3C138.3,1044.8 146.7,1043.9 155.0,1043.0C163.3,1042.1 167.5,1041.6 180.0,1040.8C192.5,1040.0 213.3,1039.0 230.0,1038.3C246.7,1037.6 263.3,1037.0 280.0,1036.5C296.7,1036.0 300.8,1036.2 330.0,1035.5C359.2,1034.8 416.7,1032.9 455.0,1032.0C493.3,1031.1 534.2,1030.5 560.0,1030.0C585.8,1029.5 593.3,1029.5 610.0,1028.8C626.7,1028.1 647.5,1026.7 660.0,1025.8C672.5,1024.9 676.7,1024.3 685.0,1023.3C693.3,1022.2 703.8,1020.8 710.0,1019.5C716.2,1018.2 718.3,1017.5 722.5,1015.5C726.7,1013.5 731.7,1010.3 735.0,1007.5C738.3,1004.7 740.0,1002.5 742.5,998.8C745.0,995.0 747.5,990.2 750.0,985.0C752.5,979.8 755.0,973.1 757.5,967.5C760.0,961.9 762.7,955.5 765.0,951.3C767.3,947.0 769.2,944.0 771.3,942.0C773.4,940.0 775.4,939.4 777.5,939.3C779.6,939.2 781.3,939.7 783.8,941.3C786.3,942.9 789.4,946.1 792.5,948.8C795.6,951.5 799.2,954.9 802.5,957.5C805.8,960.1 808.8,962.3 812.5,964.3C816.2,966.3 820.8,968.2 825.0,969.5C829.2,970.8 833.3,971.6 837.5,972.0C841.7,972.4 846.2,972.3 850.0,971.8C853.8,971.3 856.7,970.3 860.0,968.8C863.3,967.2 867.5,964.5 870.0,962.5C872.5,960.5 872.5,960.8 875.0,957.0C877.5,953.2 882.3,945.2 885.0,940.0C887.7,934.8 889.2,930.0 891.0,925.5C892.8,921.0 895.2,915.0 896.0,912.9C896.0,914.8 896.2,920.1 895.8,924.0C895.4,927.9 894.5,931.7 893.6,936.0C892.7,940.3 891.5,945.0 890.3,949.8C889.1,954.6 888.0,960.0 886.3,965.0C884.6,970.0 882.3,975.6 880.0,980.0C877.7,984.4 875.4,988.2 872.5,991.3C869.6,994.4 866.2,996.8 862.5,998.8C858.8,1000.8 854.2,1002.0 850.0,1003.0C845.8,1004.0 841.7,1004.5 837.5,1005.0C833.3,1005.5 829.2,1005.8 825.0,1006.3C820.8,1006.8 816.7,1007.3 812.5,1008.0C808.3,1008.7 803.8,1009.5 800.0,1010.7C796.2,1011.9 793.3,1013.3 790.0,1015.4C786.7,1017.5 782.9,1020.6 780.0,1023.5C777.1,1026.4 775.0,1029.2 772.5,1033.0C770.0,1036.8 767.4,1041.7 765.0,1046.0C762.6,1050.3 760.2,1055.2 758.0,1059.0C755.8,1062.8 754.0,1066.3 752.0,1069.0C750.0,1071.7 748.3,1073.6 746.3,1075.0C744.3,1076.4 742.3,1077.3 740.0,1077.3C737.7,1077.3 735.4,1076.4 732.5,1075.0C729.6,1073.6 726.2,1070.9 722.5,1068.8C718.8,1066.7 714.2,1064.2 710.0,1062.5C705.8,1060.8 701.7,1059.5 697.5,1058.3C693.3,1057.0 691.2,1056.2 685.0,1055.0C678.8,1053.8 668.3,1052.0 660.0,1050.8C651.7,1049.6 643.3,1048.8 635.0,1048.0C626.7,1047.2 619.2,1046.8 610.0,1046.3C600.8,1045.8 591.2,1045.6 580.0,1045.3C568.8,1045.0 555.0,1044.5 542.5,1044.3C530.0,1044.0 519.6,1043.8 505.0,1043.8C490.4,1043.8 471.7,1044.1 455.0,1044.5C438.3,1044.9 425.8,1045.5 405.0,1046.3C384.2,1047.1 350.8,1048.5 330.0,1049.5C309.2,1050.5 296.7,1051.0 280.0,1052.0C263.3,1053.0 246.7,1054.4 230.0,1055.5C213.3,1056.6 196.7,1057.7 180.0,1058.8C163.3,1059.9 145.7,1061.3 130.0,1062.0C114.3,1062.7 93.3,1062.8 86.0,1063.0" fill="none" stroke="#231f20" stroke-width="4.5" stroke-linejoin="round"/>
<path d="M86.0,1227.5C87.1,1226.2 89.3,1222.3 92.5,1220.0C95.7,1217.7 100.8,1215.6 105.0,1213.8C109.2,1212.0 113.3,1210.7 117.5,1209.3C121.7,1207.9 123.8,1206.9 130.0,1205.5C136.2,1204.1 146.7,1202.1 155.0,1200.8C163.3,1199.5 171.7,1198.4 180.0,1197.5C188.3,1196.6 196.7,1196.1 205.0,1195.5C213.3,1194.9 217.5,1194.5 230.0,1193.8C242.5,1193.1 263.3,1192.0 280.0,1191.3C296.7,1190.6 309.2,1190.2 330.0,1189.5C350.8,1188.8 380.0,1187.8 405.0,1187.0C430.0,1186.2 459.2,1185.2 480.0,1184.5C500.8,1183.8 516.7,1183.4 530.0,1183.0C543.3,1182.6 550.8,1182.7 560.0,1182.3C569.2,1181.9 576.7,1181.4 585.0,1180.5C593.3,1179.6 601.7,1178.0 610.0,1176.8C618.3,1175.5 628.3,1174.0 635.0,1173.0C641.7,1172.0 645.0,1171.9 650.0,1170.8C655.0,1169.7 660.4,1168.3 665.0,1166.3C669.6,1164.3 673.8,1161.9 677.5,1158.8C681.2,1155.7 684.2,1152.1 687.5,1147.5C690.8,1142.9 694.2,1137.1 697.5,1131.3C700.8,1125.5 704.6,1117.5 707.5,1112.5C710.4,1107.5 712.7,1104.1 715.0,1101.3C717.3,1098.5 719.4,1096.8 721.3,1095.8C723.2,1094.8 724.4,1094.7 726.3,1095.0C728.2,1095.3 730.2,1095.8 732.5,1097.5C734.8,1099.2 737.1,1102.2 740.0,1105.0C742.9,1107.8 746.7,1111.6 750.0,1114.5C753.3,1117.4 756.7,1120.3 760.0,1122.5C763.3,1124.7 766.7,1126.5 770.0,1127.8C773.3,1129.1 776.7,1129.8 780.0,1130.3C783.3,1130.8 786.7,1131.1 790.0,1131.0C793.3,1130.9 796.2,1130.5 800.0,1129.7C803.8,1129.0 808.3,1128.0 812.5,1126.5C816.7,1125.0 820.8,1122.7 825.0,1120.5C829.2,1118.3 833.3,1116.1 837.5,1113.3C841.7,1110.5 846.2,1106.8 850.0,1103.8C853.8,1100.8 856.8,1098.5 860.0,1095.6C863.2,1092.7 866.0,1089.5 869.0,1086.6C872.0,1083.7 875.3,1080.5 878.0,1078.2C880.7,1075.9 883.0,1074.2 885.2,1072.8C887.4,1071.4 889.5,1070.4 891.2,1069.8C893.0,1069.2 895.0,1069.1 895.7,1068.9C895.6,1070.2 895.3,1073.8 894.8,1077.0C894.2,1080.2 893.3,1084.6 892.4,1088.4C891.5,1092.2 890.6,1095.2 889.4,1099.8C888.2,1104.4 887.0,1110.8 885.0,1116.3C883.0,1121.8 880.0,1128.1 877.5,1132.5C875.0,1136.9 872.9,1139.4 870.0,1142.5C867.1,1145.6 863.3,1148.9 860.0,1151.3C856.7,1153.7 853.8,1155.2 850.0,1157.0C846.2,1158.8 841.7,1160.5 837.5,1162.0C833.3,1163.5 829.2,1164.8 825.0,1165.8C820.8,1166.8 816.7,1167.4 812.5,1168.0C808.3,1168.6 804.2,1169.1 800.0,1169.5C795.8,1169.9 792.1,1170.2 787.5,1170.6C782.9,1171.0 777.9,1171.3 772.5,1172.0C767.1,1172.7 760.0,1173.7 755.0,1174.5C750.0,1175.3 746.2,1175.9 742.5,1177.0C738.8,1178.1 735.8,1179.3 732.5,1181.3C729.2,1183.3 725.8,1185.9 722.5,1188.8C719.2,1191.7 715.8,1195.3 712.5,1198.8C709.2,1202.3 705.8,1206.8 702.5,1210.0C699.2,1213.2 695.8,1216.1 692.5,1218.0C689.2,1219.9 685.8,1220.8 682.5,1221.3C679.2,1221.8 676.2,1221.2 672.5,1220.8C668.8,1220.4 666.2,1220.0 660.0,1218.8C653.8,1217.6 643.3,1215.3 635.0,1213.8C626.7,1212.2 618.3,1210.6 610.0,1209.5C601.7,1208.4 594.2,1207.7 585.0,1207.0C575.8,1206.3 564.2,1206.0 555.0,1205.5C545.8,1205.0 542.5,1204.4 530.0,1204.0C517.5,1203.6 496.7,1203.1 480.0,1203.0C463.3,1202.9 446.7,1203.0 430.0,1203.3C413.3,1203.6 396.7,1204.3 380.0,1205.0C363.3,1205.7 342.5,1206.8 330.0,1207.3C317.5,1207.8 313.3,1207.8 305.0,1208.3C296.7,1208.8 288.3,1209.4 280.0,1210.0C271.7,1210.6 263.3,1211.1 255.0,1211.8C246.7,1212.5 238.3,1213.3 230.0,1214.3C221.7,1215.2 213.3,1216.4 205.0,1217.5C196.7,1218.6 188.3,1219.8 180.0,1220.8C171.7,1221.8 163.3,1223.0 155.0,1223.8C146.7,1224.6 138.3,1225.1 130.0,1225.8C121.7,1226.5 112.3,1227.3 105.0,1228.0C97.7,1228.7 89.2,1229.7 86.0,1230.0" fill="none" stroke="#231f20" stroke-width="4.5" stroke-linejoin="round"/>
</svg>
</body></html>
